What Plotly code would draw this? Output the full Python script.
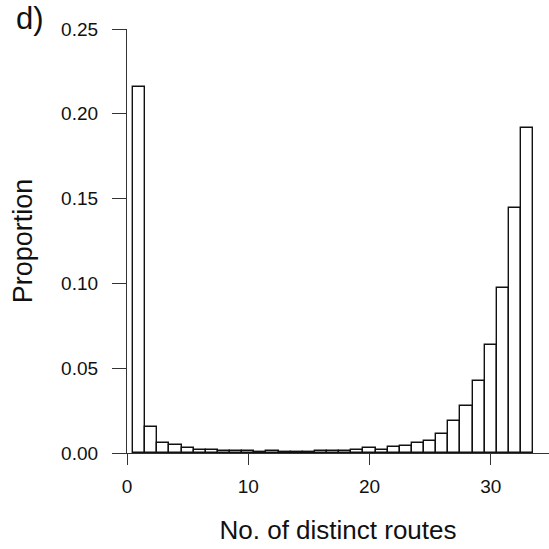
import plotly.graph_objects as go

# Histogram of the number of distinct routes (bin centres 1..33)
routes = list(range(1, 34))
proportion = [
    0.216, 0.0155, 0.0057, 0.0047, 0.0029, 0.0018, 0.0018, 0.0010, 0.0010, 0.0010,
    0.0008, 0.0014, 0.0006, 0.0006, 0.0008, 0.0012, 0.0014, 0.0014, 0.0018, 0.0027,
    0.0020, 0.0037, 0.0041, 0.0061, 0.0068, 0.0112, 0.0190, 0.0279, 0.0426, 0.0634,
    0.0975, 0.1442, 0.1914,
]
x_ticks = [0, 10, 20, 30]
y_ticks = [0.00, 0.05, 0.10, 0.15, 0.20, 0.25]

FONT = "Liberation Sans, Arial, sans-serif"
INK = "#111111"

fig = go.Figure(
    go.Bar(
        x=routes,
        y=proportion,
        width=1,
        marker=dict(color="white", line=dict(color=INK, width=1.4)),
        hoverinfo="x+y",
    )
)

fig.update_layout(
    width=549,
    height=549,
    margin=dict(l=127, r=0, t=29, b=96),
    paper_bgcolor="white",
    plot_bgcolor="white",
    showlegend=False,
    bargap=0,
    font=dict(family=FONT, color=INK),
    xaxis=dict(
        range=[0, 34.8],
        tickmode="array",
        tickvals=x_ticks,
        ticktext=[str(v) for v in x_ticks],
        ticks="outside",
        ticklen=11,
        tickwidth=1.3,
        tickcolor="#333333",
        showline=True,
        linecolor="#333333",
        linewidth=1.3,
        showgrid=False,
        zeroline=False,
        tickfont=dict(size=19, family=FONT, color=INK),
        ticklabelstandoff=5,
        title=dict(text="No. of distinct routes", font=dict(size=26, family=FONT, color=INK), standoff=24),
    ),
    yaxis=dict(
        range=[0, 0.25],
        tickmode="array",
        tickvals=y_ticks,
        ticktext=[f"{v:.2f}" for v in y_ticks],
        ticks="outside",
        ticklen=14,
        tickwidth=1.3,
        tickcolor="#333333",
        showline=True,
        linecolor="#333333",
        linewidth=1.3,
        showgrid=False,
        zeroline=False,
        tickfont=dict(size=19, family=FONT, color=INK),
        ticklabelstandoff=10,
        title=dict(text="Proportion", font=dict(size=27, family=FONT, color=INK), standoff=20),
    ),
    annotations=[
        dict(
            text="d)",
            xref="paper", yref="paper",
            x=-0.268, y=1.025,
            xanchor="left", yanchor="middle",
            showarrow=False,
            font=dict(size=31, family=FONT, color=INK),
        )
    ],
)

fig.write_html("out.html")
